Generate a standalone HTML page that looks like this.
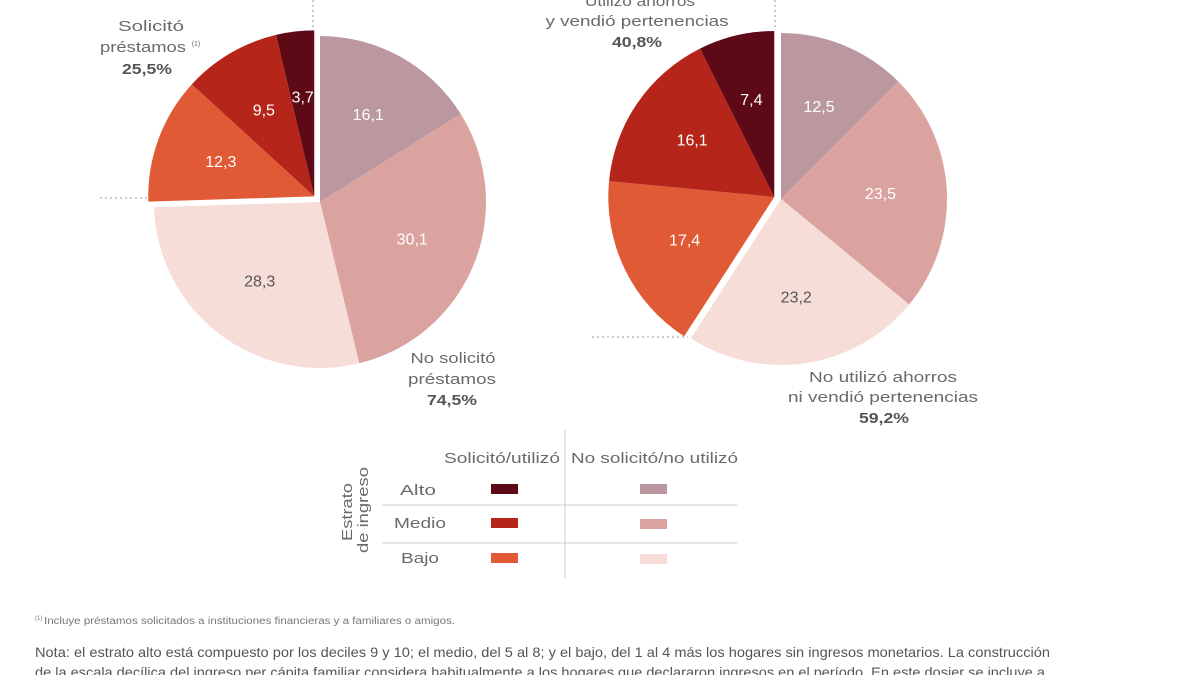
<!DOCTYPE html>
<html><head><meta charset="utf-8"><style>
html,body{margin:0;padding:0;background:#fff;}
body{width:1200px;height:675px;overflow:hidden;font-family:"Liberation Sans",sans-serif;}
svg{display:block}
</style></head><body>
<svg id="chart" width="1200" height="675" viewBox="0 0 1200 675" xmlns="http://www.w3.org/2000/svg">
<g stroke="#9a9a9a" stroke-width="1" stroke-dasharray="2,3" fill="none">
<line x1="313" y1="0" x2="313" y2="30"/><line x1="100" y1="198" x2="148" y2="198"/>
<line x1="775" y1="0" x2="775" y2="30"/><line x1="592" y1="337" x2="688" y2="337"/>
</g>
<g id="pies"></g>
<g font-size="15" fill="#6a6a6a" text-anchor="middle" lengthAdjust="spacingAndGlyphs">
<text x="151" y="31" textLength="66" lengthAdjust="spacingAndGlyphs">Solicitó</text>
<text x="143" y="52" textLength="86" lengthAdjust="spacingAndGlyphs">préstamos</text>
<text x="196" y="46" font-size="7">(1)</text>
<text x="147" y="74" font-weight="bold" fill="#555" textLength="50" lengthAdjust="spacingAndGlyphs">25,5%</text>
<text x="453" y="363" textLength="85" lengthAdjust="spacingAndGlyphs">No solicitó</text>
<text x="452" y="384" textLength="88" lengthAdjust="spacingAndGlyphs">préstamos</text>
<text x="452" y="405" font-weight="bold" fill="#555" textLength="50" lengthAdjust="spacingAndGlyphs">74,5%</text>
<text x="640" y="6" textLength="110" lengthAdjust="spacingAndGlyphs">Utilizó ahorros</text>
<text x="637" y="26" textLength="183" lengthAdjust="spacingAndGlyphs">y vendió pertenencias</text>
<text x="637" y="47" font-weight="bold" fill="#555" textLength="50" lengthAdjust="spacingAndGlyphs">40,8%</text>
<text x="883" y="382" textLength="148" lengthAdjust="spacingAndGlyphs">No utilizó ahorros</text>
<text x="883" y="402" textLength="190" lengthAdjust="spacingAndGlyphs">ni vendió pertenencias</text>
<text x="884" y="423" font-weight="bold" fill="#555" textLength="50" lengthAdjust="spacingAndGlyphs">59,2%</text>
</g>
<g font-size="15" fill="#6a6a6a">
<line x1="565" y1="430" x2="565" y2="578" stroke="#ccc"/>
<line x1="382" y1="505" x2="737" y2="505" stroke="#ccc"/>
<line x1="382" y1="543" x2="737" y2="543" stroke="#ccc"/>
<text x="444" y="463" textLength="116" lengthAdjust="spacingAndGlyphs">Solicitó/utilizó</text>
<text x="571" y="463" textLength="167" lengthAdjust="spacingAndGlyphs">No solicitó/no utilizó</text>
<text transform="translate(352,512) rotate(-90)" text-anchor="middle" textLength="58" lengthAdjust="spacingAndGlyphs">Estrato</text>
<text transform="translate(368,510) rotate(-90)" text-anchor="middle" textLength="86" lengthAdjust="spacingAndGlyphs">de ingreso</text>
<text x="418" y="495" text-anchor="middle" textLength="36" lengthAdjust="spacingAndGlyphs">Alto</text>
<text x="420" y="528" text-anchor="middle" textLength="52" lengthAdjust="spacingAndGlyphs">Medio</text>
<text x="420" y="563" text-anchor="middle" textLength="38" lengthAdjust="spacingAndGlyphs">Bajo</text>
<rect x="491" y="484" width="27" height="10" fill="#5e0a16"/>
<rect x="491" y="518" width="27" height="10" fill="#b5251a"/>
<rect x="491" y="553" width="27" height="10" fill="#e05a35"/>
<rect x="640" y="484" width="27" height="10" fill="#bb97a0"/>
<rect x="640" y="519" width="27" height="10" fill="#dba39f"/>
<rect x="640" y="554" width="27" height="10" fill="#f6ddd7"/>
</g>
<text x="35" y="620" font-size="6" fill="#777">(1)</text>
<text x="44" y="624" font-size="10" fill="#777" textLength="411" lengthAdjust="spacingAndGlyphs">Incluye préstamos solicitados a instituciones financieras y a familiares o amigos.</text>
<text x="35" y="657" font-size="14" fill="#555" textLength="1015" lengthAdjust="spacingAndGlyphs">Nota: el estrato alto está compuesto por los deciles 9 y 10; el medio, del 5 al 8; y el bajo, del 1 al 4 más los hogares sin ingresos monetarios. La construcción</text>
<text x="35" y="677" font-size="14" fill="#555" textLength="1010" lengthAdjust="spacingAndGlyphs">de la escala decílica del ingreso per cápita familiar considera habitualmente a los hogares que declararon ingresos en el período. En este dosier se incluye a</text>
</svg>
<script>
// Left pie (clockwise from 12 o'clock)
const leftCategories = ["No alto","No medio","No bajo","Sí bajo","Sí medio","Sí alto"];
const leftValues = [16.1, 30.1, 28.3, 12.3, 9.5, 3.7];
const leftLabels = ["16,1","30,1","28,3","12,3","9,5","3,7"];
// Right pie
const rightCategories = ["No alto","No medio","No bajo","Sí bajo","Sí medio","Sí alto"];
const rightValues = [12.5, 23.5, 23.2, 17.4, 16.1, 7.4];
const rightLabels = ["12,5","23,5","23,2","17,4","16,1","7,4"];

const colors = ["#bb97a0","#dba39f","#f6ddd7","#e05a35","#b5251a","#5e0a16"];
const textColors = ["#fff","#fff","#555","#fff","#fff","#fff"];
const NS = "http://www.w3.org/2000/svg";
const g = document.getElementById("pies");

function drawPie(name, cx, cy, r, vals, labels, explodeFrom, off) {
  const total = vals.reduce((a,b)=>a+b,0);
  let a0 = 0, groupStart = 0;
  vals.forEach((v,i)=>{ if(i===explodeFrom) groupStart=a0; a0+=v/total*360; });
  const mid = (groupStart+360)/2*Math.PI/180;
  const dx = off*Math.sin(mid), dy = -off*Math.cos(mid);
  let acc = 0;
  vals.forEach((v,i)=>{
    const s = acc/total*2*Math.PI, e = (acc+v)/total*2*Math.PI;
    acc += v;
    const ox = i>=explodeFrom ? dx : 0, oy = i>=explodeFrom ? dy : 0;
    const x = cx+ox, y = cy+oy;
    const p = document.createElementNS(NS,"path");
    const large = (e-s) > Math.PI ? 1 : 0;
    p.setAttribute("d", `M${x},${y} L${x+r*Math.sin(s)},${y-r*Math.cos(s)} A${r},${r} 0 ${large} 1 ${x+r*Math.sin(e)},${y-r*Math.cos(e)} Z`);
    p.setAttribute("fill", colors[i]);
    
    
    g.appendChild(p);
    const m = (s+e)/2, lr = r*0.6;
    const t = document.createElementNS(NS,"text");
    t.setAttribute("x", x+lr*Math.sin(m));
    t.setAttribute("y", y-lr*Math.cos(m)+5);
    t.setAttribute("text-anchor","middle");
    t.setAttribute("font-size","16");
    t.setAttribute("fill", textColors[i]);
    t.textContent = labels[i];
    
    
    g.appendChild(t);
  });
}
drawPie("left-pie", 320, 202, 166, leftValues, leftLabels, 3, 8);
drawPie("right-pie", 781, 199, 166, rightValues, rightLabels, 3, 7);
</script>
</body></html>
